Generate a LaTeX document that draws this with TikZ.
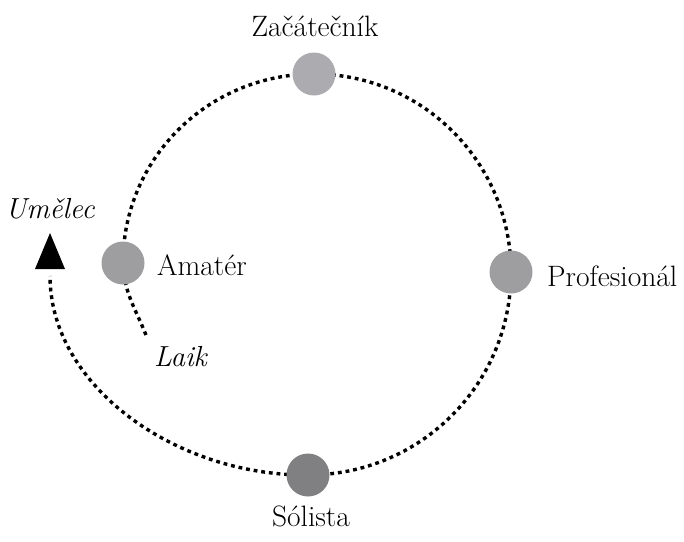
\documentclass[tikz,border=0pt]{standalone}
\usepackage{fontspec}
\usetikzlibrary{backgrounds}
\definecolor{dotlight}{RGB}{172,172,176}
\definecolor{dotmid}{RGB}{158,158,160}
\definecolor{dotdark}{RGB}{128,128,130}
\tikzset{
  dotpath/.style={line width=3.4pt, dash pattern=on 3.8pt off 3.9pt, black},
  stage/.style={circle, minimum size=43pt, inner sep=0pt},
  lbl/.style={font=\fontsize{29.5}{33}\selectfont, inner sep=0pt},
  ilbl/.style={font=\fontsize{29}{33}\selectfont\itshape, inner sep=0pt},
}
\begin{document}
\begin{tikzpicture}[x=1pt,y=1pt]
\useasboundingbox (0,0) rectangle (684,-541);
% stages
\node[stage, fill=dotlight] (zac) at (314,-74) {};
\node[stage, fill=dotmid] (ama) at (123,-263) {};
\node[stage, fill=dotmid] (pro) at (511,-272) {};
\node[stage, fill=dotdark] (sol) at (308,-475) {};
\coordinate (laikend) at (146,-335);
\coordinate (umbase) at (50,-276);
% spiral path
\begin{pgfonlayer}{background}
\draw[dotpath] (laikend) to[out=112,in=-88] (ama.center)
  to[out=90,in=180] (zac.center)
  to[out=0,in=90] (pro.center)
  to[out=-90,in=0] (sol.center)
  .. controls +(-132,-1) and (50,-386) .. (umbase);
\end{pgfonlayer}
% arrow head
\fill ([shift={(-15,7)}]umbase) -- ([shift={(0,43)}]umbase) -- ([shift={(15,7)}]umbase) -- cycle;
% labels
\node[lbl, anchor=base] (tzac) at (315,-36) {Začátečník};
\node[lbl, anchor=base west] (tama) at (157,-275) {Amatér};
\node[lbl, anchor=base west] (tpro) at (547,-286) {Profesionál};
\node[lbl, anchor=base] (tsol) at (311,-526) {Sólista};
\node[ilbl, anchor=base] (tume) at (50,-218) {Umělec};
\node[ilbl, anchor=base west] (tlaik) at (154,-366) {Laik};
\end{tikzpicture}
\end{document}
